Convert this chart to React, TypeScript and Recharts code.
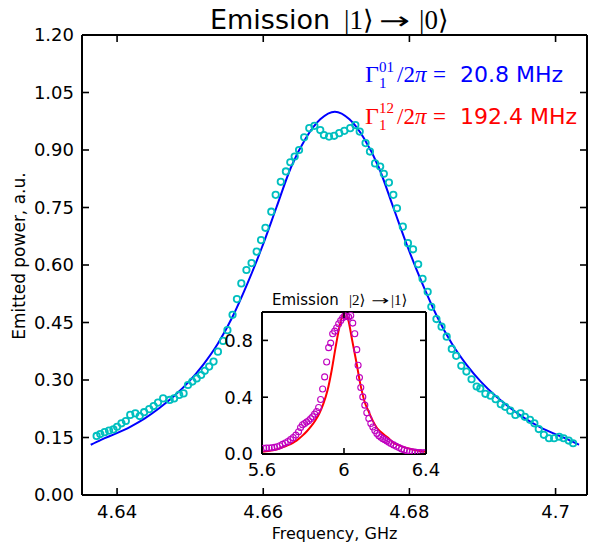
import React from 'react';
import { ComposedChart, Line, XAxis, YAxis } from 'recharts';

// main panel, emission |1> -> |0>: measured points
const mainFreq = [
  4.6372, 4.6377, 4.6383, 4.6389, 4.6395, 4.64, 4.6406, 4.6412, 4.6418, 4.6425,
  4.6431, 4.6437, 4.6444, 4.645, 4.6456, 4.6463, 4.6472, 4.6478, 4.6485, 4.6491,
  4.6497, 4.6503, 4.6509, 4.6515, 4.652, 4.6526, 4.6532, 4.6538, 4.6545, 4.6551,
  4.6558, 4.6564, 4.657, 4.6577, 4.6584, 4.6591, 4.6597, 4.6603, 4.6611, 4.6617,
  4.6624, 4.6631, 4.6637, 4.6643, 4.6649, 4.6656, 4.6663, 4.667, 4.6678, 4.6683,
  4.669, 4.6697, 4.6704, 4.6711, 4.6719, 4.6726, 4.6732, 4.674, 4.6746, 4.6753,
  4.676, 4.6765, 4.6772, 4.6778, 4.6783, 4.6791, 4.6798, 4.6805, 4.6812, 4.6818,
  4.6825, 4.683, 4.6837, 4.6844, 4.6851, 4.6858, 4.6864, 4.6871, 4.6878, 4.6885,
  4.6892, 4.6897, 4.6904, 4.6911, 4.6918, 4.6925, 4.6931, 4.6938, 4.6945, 4.6952,
  4.6958, 4.6965, 4.6971, 4.6977, 4.6984, 4.6991, 4.6998, 4.7005, 4.7011, 4.7018,
  4.7024,
];
const mainPower = [
  0.154, 0.159, 0.164, 0.168, 0.171, 0.178, 0.187, 0.193, 0.209, 0.213,
  0.206, 0.216, 0.224, 0.232, 0.241, 0.252, 0.248, 0.252, 0.261, 0.265,
  0.287, 0.296, 0.304, 0.313, 0.324, 0.335, 0.348, 0.374, 0.402, 0.43,
  0.47, 0.511, 0.552, 0.587, 0.605, 0.635, 0.665, 0.697, 0.739, 0.783,
  0.817, 0.844, 0.868, 0.883, 0.9, 0.933, 0.957, 0.963, 0.952, 0.939,
  0.935, 0.937, 0.944, 0.95, 0.957, 0.965, 0.948, 0.918, 0.896, 0.865,
  0.857, 0.838, 0.815, 0.783, 0.748, 0.7, 0.657, 0.641, 0.602, 0.564,
  0.53, 0.491, 0.459, 0.439, 0.413, 0.381, 0.363, 0.337, 0.322, 0.302,
  0.283, 0.278, 0.264, 0.259, 0.25, 0.237, 0.23, 0.22, 0.209, 0.213,
  0.204, 0.196, 0.187, 0.172, 0.157, 0.148, 0.148, 0.152, 0.148, 0.142,
  0.135,
];

// main panel: fitted curve
const fitFreq = [
  4.6364, 4.6378, 4.6398, 4.6418, 4.6438, 4.6458, 4.6478, 4.6498, 4.6518, 4.6538,
  4.6558, 4.6578, 4.6598, 4.6618, 4.6638, 4.6658, 4.6678, 4.6698, 4.6718, 4.6738,
  4.6758, 4.6778, 4.6798, 4.6818, 4.6838, 4.6858, 4.6878, 4.6898, 4.6918, 4.6938,
  4.6958, 4.6978, 4.6998, 4.7018, 4.7032,
];
const fitPower = [
  0.131, 0.144, 0.16, 0.178, 0.2, 0.227, 0.258, 0.295, 0.34, 0.395,
  0.465, 0.55, 0.645, 0.75, 0.855, 0.93, 0.98, 1.0, 0.98, 0.93,
  0.855, 0.75, 0.645, 0.55, 0.465, 0.395, 0.34, 0.295, 0.258, 0.227,
  0.2, 0.178, 0.16, 0.144, 0.131,
];

const mainXTicks = [4.64, 4.66, 4.68, 4.7];
const mainYTicks = [0, 0.15, 0.3, 0.45, 0.6, 0.75, 0.9, 1.05, 1.2];

// inset, emission |2> -> |1>: measured points
const insetFreq = [
  5.6085, 5.6216, 5.6346, 5.6477, 5.6607, 5.6738, 5.6868, 5.6999, 5.713, 5.726,
  5.7391, 5.7521, 5.7652, 5.7783, 5.7881, 5.7979, 5.8077, 5.8175, 5.8273, 5.837,
  5.8468, 5.8566, 5.8664, 5.8762, 5.886, 5.8958, 5.9056, 5.9154, 5.9252, 5.935,
  5.9448, 5.9546, 5.9644, 5.9742, 5.984, 5.9938, 6.0035, 6.0133, 6.0231, 6.0329,
  6.0427, 6.0525, 6.0623, 6.0688, 6.0754, 6.0819, 6.0917, 6.1015, 6.1113, 6.1211,
  6.1309, 6.1407, 6.1505, 6.1603, 6.17, 6.1798, 6.1896, 6.1994, 6.2092, 6.219,
  6.2288, 6.2419, 6.2549, 6.268, 6.281, 6.2941, 6.3072, 6.3202, 6.3333, 6.3463,
  6.3594, 6.3724, 6.3855, 6.395,
];
const insetPower = [
  0.04, 0.042, 0.042, 0.044, 0.047, 0.051, 0.058, 0.068, 0.077, 0.087,
  0.101, 0.115, 0.133, 0.157, 0.187, 0.206, 0.215, 0.225, 0.234, 0.248,
  0.262, 0.281, 0.299, 0.327, 0.384, 0.458, 0.543, 0.648, 0.749, 0.781,
  0.847, 0.865, 0.889, 0.917, 0.94, 0.959, 0.973, 0.968, 0.964, 0.975,
  0.922, 0.847, 0.735, 0.625, 0.538, 0.468, 0.402, 0.344, 0.29, 0.25,
  0.215, 0.19, 0.165, 0.145, 0.128, 0.118, 0.108, 0.1, 0.092, 0.083,
  0.074, 0.064, 0.054, 0.045, 0.036, 0.029, 0.023, 0.019, 0.016, 0.013,
  0.011, 0.01, 0.009, 0.009,
];

// inset: fitted curve
const insetFitFreq = [
  5.6, 5.62, 5.64, 5.66, 5.68, 5.7, 5.72, 5.74, 5.76, 5.78,
  5.8, 5.82, 5.84, 5.86, 5.88, 5.9, 5.92, 5.94, 5.96, 5.98,
  6.0, 6.003, 6.02, 6.04, 6.06, 6.08, 6.1, 6.12, 6.14, 6.16,
  6.18, 6.2, 6.22, 6.24, 6.26, 6.28, 6.3, 6.32, 6.34, 6.36,
  6.38, 6.4,
];
const insetFitPower = [
  0.016, 0.019, 0.023, 0.028, 0.036, 0.047, 0.058, 0.07, 0.086, 0.108,
  0.133, 0.162, 0.196, 0.236, 0.287, 0.356, 0.45, 0.59, 0.76, 0.91,
  0.998, 1.0, 0.95, 0.8, 0.65, 0.49, 0.37, 0.3, 0.235, 0.185,
  0.155, 0.13, 0.108, 0.08, 0.066, 0.054, 0.045, 0.037, 0.03, 0.024,
  0.019, 0.015,
];

const insetXTicks = [5.6, 6, 6.4];
const insetYTicks = [0, 0.4, 0.8];

const zip = (xs: number[], ys: number[]) => xs.map((f, i) => ({ f, v: ys[i] }));

const SANS = '"DejaVu Sans", sans-serif';
const SERIF = '"Liberation Serif", "DejaVu Serif", serif';
const CYAN = '#00BFBF';
const MAGENTA = '#BF00BF';

const frame = { stroke: '#000', strokeWidth: 2 };

type Side = 'left' | 'right' | 'top' | 'bottom';

// matplotlib-style inward ticks; gap = tickSize + tickMargin
const tick = (side: Side, gap: number, len: number, fmt?: (v: number) => string) => (props: any) => {
  const { x, y, payload } = props;
  let ln: [number, number, number, number];
  let anchor: 'start' | 'middle' | 'end' = 'middle';
  let dy = '0.35em';
  if (side === 'left') {
    const ax = x + gap;
    ln = [ax, y, ax + len, y];
    anchor = 'end';
  } else if (side === 'right') {
    const ax = x - gap;
    ln = [ax, y, ax - len, y];
    anchor = 'start';
  } else if (side === 'bottom') {
    const ay = y - gap;
    ln = [x, ay, x, ay - len];
    dy = '0.73em';
  } else {
    const ay = y + gap;
    ln = [x, ay, x, ay + len];
  }
  return (
    <g>
      <line x1={ln[0]} y1={ln[1]} x2={ln[2]} y2={ln[3]} stroke="#000" strokeWidth={1.6} />
      {fmt && (
        <text x={x} y={y} dy={dy} textAnchor={anchor} fontSize={18} fontFamily={SANS} fill="#000">
          {fmt(payload.value)}
        </text>
      )}
    </g>
  );
};

const MainPanel = () => (
  <ComposedChart width={589} height={549} margin={{ top: 34, right: 1, bottom: 0, left: 0 }}>
    <XAxis xAxisId="b" type="number" dataKey="f" domain={[4.6352, 4.7043]} allowDataOverflow
      ticks={mainXTicks} interval={0} height={54} tickSize={0} tickMargin={10}
      axisLine={frame} tickLine={false} tick={tick('bottom', 10, 7, (v) => String(v))} />
    <XAxis xAxisId="t" orientation="top" type="number" dataKey="f" domain={[4.6352, 4.7043]} allowDataOverflow
      ticks={mainXTicks} interval={0} height={1} tickSize={0} tickMargin={0}
      axisLine={frame} tickLine={false} tick={tick('top', 0, 7)} />
    <YAxis yAxisId="l" type="number" domain={[0, 1.2]} allowDataOverflow ticks={mainYTicks} interval={0}
      width={82} tickSize={0} tickMargin={8} axisLine={frame} tickLine={false}
      tick={tick('left', 8, 7, (v) => v.toFixed(2))} />
    <YAxis yAxisId="r" orientation="right" type="number" domain={[0, 1.2]} allowDataOverflow ticks={mainYTicks}
      interval={0} width={1} tickSize={0} tickMargin={0} axisLine={frame} tickLine={false}
      tick={tick('right', 0, 7)} />
    <Line xAxisId="b" yAxisId="l" data={zip(mainFreq, mainPower)} dataKey="v" stroke="none"
      dot={{ r: 3.2, stroke: CYAN, strokeWidth: 1.8, fill: 'none' }} activeDot={false} isAnimationActive={false} />
    <Line xAxisId="b" yAxisId="l" data={zip(fitFreq, fitPower)} dataKey="v" type="monotone"
      stroke="#0000FF" strokeWidth={2} dot={false} activeDot={false} isAnimationActive={false} />
  </ComposedChart>
);

const InsetPanel = () => (
  <ComposedChart width={240} height={200} margin={{ top: 21, right: 25, bottom: 0, left: 0 }}>
    <XAxis xAxisId="b" type="number" dataKey="f" domain={[5.6, 6.4]} allowDataOverflow
      ticks={insetXTicks} interval={0} height={36} tickSize={0} tickMargin={9}
      axisLine={frame} tickLine={false} tick={tick('bottom', 9, 6, (v) => String(v))} />
    <XAxis xAxisId="t" orientation="top" type="number" dataKey="f" domain={[5.6, 6.4]} allowDataOverflow
      ticks={insetXTicks} interval={0} height={1} tickSize={0} tickMargin={0}
      axisLine={frame} tickLine={false} tick={tick('top', 0, 6)} />
    <YAxis yAxisId="l" type="number" domain={[0, 1]} allowDataOverflow ticks={insetYTicks} interval={0}
      width={50} tickSize={0} tickMargin={9} axisLine={frame} tickLine={false}
      tick={tick('left', 9, 6, (v) => v.toFixed(1))} />
    <YAxis yAxisId="r" orientation="right" type="number" domain={[0, 1]} allowDataOverflow ticks={insetYTicks}
      interval={0} width={1} tickSize={0} tickMargin={0} axisLine={frame} tickLine={false}
      tick={tick('right', 0, 6)} />
    <Line xAxisId="b" yAxisId="l" data={zip(insetFreq, insetPower)} dataKey="v" stroke="none"
      dot={{ r: 3, stroke: MAGENTA, strokeWidth: 1.1, fill: 'none' }} activeDot={false} isAnimationActive={false} />
    <Line xAxisId="b" yAxisId="l" data={zip(insetFitFreq, insetFitPower)} dataKey="v" type="monotone"
      stroke="#FF0000" strokeWidth={2} dot={false} activeDot={false} isAnimationActive={false} />
  </ComposedChart>
);

// titles, axis labels and the rate annotations
const Texts = () => (
  <svg width={589} height={549} style={{ position: 'absolute', left: 0, top: 0, pointerEvents: 'none' }}>
    <text y={29} fontSize={27} fill="#000">
      <tspan x={210} fontFamily={SANS}>Emission</tspan>
      <tspan x={344} fontFamily={SERIF}>|1⟩</tspan>
    </text>
    <text x={379} y={29} fontSize={24} fontFamily={SANS} fill="#000" textLength={31} lengthAdjust="spacingAndGlyphs">→</text>
    <text x={419} y={29} fontSize={27} fontFamily={SERIF} fill="#000">|0⟩</text>

    <text x={334.5} y={539} textAnchor="middle" fontSize={16} fontFamily={SANS} fill="#000">Frequency, GHz</text>
    <text transform="translate(25,256) rotate(-90)" textAnchor="middle" fontSize={17} fontFamily={SANS} fill="#000">
      Emitted power, a.u.
    </text>

    <g fill="#0000FF">
      <text x={365} y={82} fontSize={24} fontFamily={SERIF}>Γ</text>
      <text x={379} y={71.5} fontSize={15} fontFamily={SERIF}>01</text>
      <text x={379} y={88} fontSize={15} fontFamily={SERIF}>1</text>
      <text x={397} y={82} fontSize={23} fontFamily={SERIF}>/2<tspan fontStyle="italic">π</tspan></text>
      <text x={433} y={82} fontSize={23} fontFamily={SERIF}>=</text>
      <text x={460} y={82} fontSize={22} fontFamily={SANS}>20.8 MHz</text>
    </g>
    <g fill="#FF0000">
      <text x={365} y={123.5} fontSize={24} fontFamily={SERIF}>Γ</text>
      <text x={379} y={113} fontSize={15} fontFamily={SERIF}>12</text>
      <text x={379} y={129.5} fontSize={15} fontFamily={SERIF}>1</text>
      <text x={397} y={123.5} fontSize={23} fontFamily={SERIF}>/2<tspan fontStyle="italic">π</tspan></text>
      <text x={433} y={123.5} fontSize={23} fontFamily={SERIF}>=</text>
      <text x={460} y={123.5} fontSize={22} fontFamily={SANS}>192.4 MHz</text>
    </g>

    <text y={305} fontSize={15} fill="#000">
      <tspan x={272} fontFamily={SANS}>Emission</tspan>
      <tspan x={349} fontFamily={SERIF}>|2⟩</tspan>
    </text>
    <text x={371} y={305} fontSize={13} fontFamily={SANS} fill="#000" textLength={18} lengthAdjust="spacingAndGlyphs">→</text>
    <text x={391} y={305} fontSize={15} fontFamily={SERIF} fill="#000">|1⟩</text>
  </svg>
);

export default function App() {
  return (
    <div style={{ position: 'absolute', left: 0, top: 0, width: 589, height: 549, background: '#fff', overflow: 'hidden' }}>
      <MainPanel />
      <div style={{ position: 'absolute', left: 212, top: 290 }}>
        <InsetPanel />
      </div>
      <Texts />
    </div>
  );
}
